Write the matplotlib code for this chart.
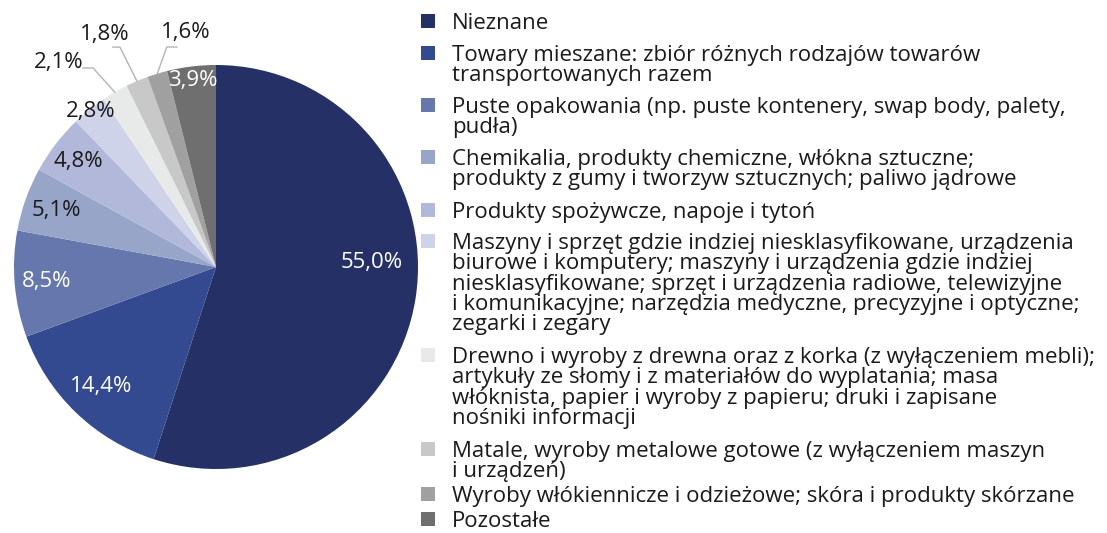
import numpy as np
import matplotlib
matplotlib.use('Agg')
import matplotlib.pyplot as plt
from matplotlib.patches import Rectangle

plt.rcParams['font.family'] = ['Open Sans', 'DejaVu Sans']

categories = [
    'Nieznane',
    'Towary mieszane: zbiór różnych rodzajów towarów\ntransportowanych razem',
    'Puste opakowania (np. puste kontenery, swap body, palety,\npudła)',
    'Chemikalia, produkty chemiczne, włókna sztuczne;\nprodukty z gumy i tworzyw sztucznych; paliwo jądrowe',
    'Produkty spożywcze, napoje i tytoń',
    'Maszyny i sprzęt gdzie indziej niesklasyfikowane, urządzenia\nbiurowe i komputery; maszyny i urządzenia gdzie indziej\n'
    'niesklasyfikowane; sprzęt i urządzenia radiowe, telewizyjne\ni komunikacyjne; narzędzia medyczne, precyzyjne i optyczne;\n'
    'zegarki i zegary',
    'Drewno i wyroby z drewna oraz z korka (z wyłączeniem mebli);\nartykuły ze słomy i z materiałów do wyplatania; masa\n'
    'włóknista, papier i wyroby z papieru; druki i zapisane\nnośniki informacji',
    'Matale, wyroby metalowe gotowe (z wyłączeniem maszyn\ni urządzeń)',
    'Wyroby włókiennicze i odzieżowe; skóra i produkty skórzane',
    'Pozostałe',
]
shares = [55.0, 14.4, 8.5, 5.1, 4.8, 2.8, 2.1, 1.8, 1.6, 3.9]

colors = ['#253066', '#344a90', '#6677ad', '#97a5c9', '#b1b8da',
          '#ced3e9', '#e8eaea', '#c8c8c8', '#a0a0a0', '#6f6f6f']
label_colors = ['white', 'white', 'white', '#1a1a1a', '#1a1a1a',
                '#1a1a1a', '#1a1a1a', '#1a1a1a', '#1a1a1a', 'white']

# label placement (radius fraction, angle override in degrees or None = mid angle)
label_r = [0.77, 0.82, 0.84, 0.84, 0.86, 0.99, 1.28, 1.274, 1.168, 0.93]
label_theta = [1.5, None, None, None, None, None, 127.6, 115.6, 97.3, None]
# leader lines for outside labels: (elbow radius, elbow angle, horizontal length)
leaders = {6: (1.158, 121.7, -0.05), 7: (1.188, 113.6, -0.035), 8: (1.116, 102.6, 0.05)}

W, H = 1107, 533
fig = plt.figure(figsize=(W / 100, H / 100), dpi=100)
cx, cy, R = 216, 267, 202
ax = fig.add_axes([(cx - R) / W, (H - cy - R) / H, 2 * R / W, 2 * R / H])

wedges, _ = ax.pie(shares, colors=colors, startangle=90, counterclock=False,
                   radius=1, wedgeprops=dict(linewidth=0))
ax.set_xlim(-1, 1)
ax.set_ylim(-1, 1)
ax.axis('off')

for i, (w, v) in enumerate(zip(wedges, shares)):
    mid = np.deg2rad((w.theta1 + w.theta2) / 2)
    th = mid if label_theta[i] is None else np.deg2rad(label_theta[i])
    r = label_r[i]
    txt = f'{v:.1f}'.replace('.', ',') + '%'
    ax.text(r * np.cos(th), r * np.sin(th), txt, ha='center', va='center',
            fontsize=16, color=label_colors[i], clip_on=False)
    if i in leaders:
        er, ea, hl = leaders[i]
        ea = np.deg2rad(ea)
        ex, ey = er * np.cos(ea), er * np.sin(ea)
        ax.plot([np.cos(mid), ex, ex + hl], [np.sin(mid), ey, ey],
                color='#b5b5b5', lw=1, clip_on=False)

# legend
item_y = [21, 53, 105, 157, 210, 241, 355, 449, 494, 519]
line_step = 20.3
for i, (lab, c) in enumerate(zip(categories, colors)):
    y0 = item_y[i]
    fig.patches.append(Rectangle((421 / W, 1 - (y0 + 7) / H), 14 / W, 14 / H,
                                 transform=fig.transFigure, facecolor=c,
                                 edgecolor='none'))
    for k, line in enumerate(lab.split('\n')):
        fig.text(452 / W, 1 - (y0 + k * line_step) / H, line, ha='left',
                 va='center_baseline', fontsize=16, color='#1a1a1a')

fig.savefig('out.png', dpi=100)
